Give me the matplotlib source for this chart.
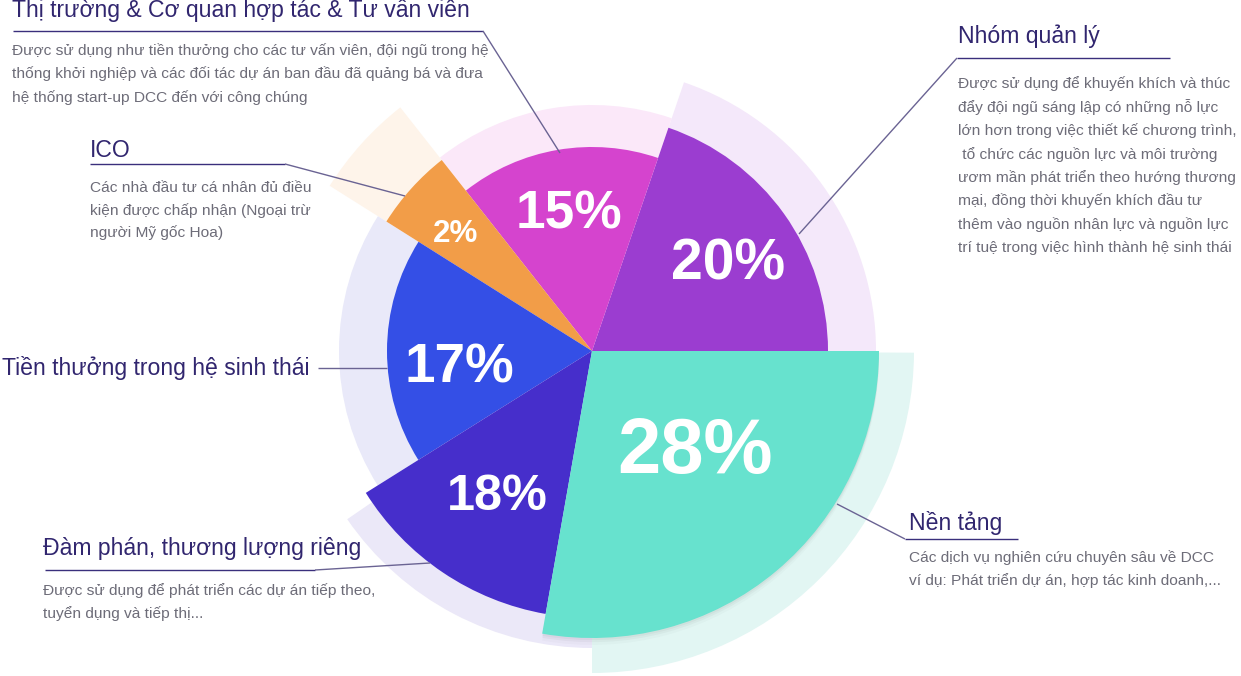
import numpy as np
import matplotlib

matplotlib.use("Agg")
import matplotlib.pyplot as plt
import matplotlib.patheffects as pe

plt.rcParams["font.family"] = ["Liberation Sans", "DejaVu Sans"]

W, H = 1241, 676
CX, CY = 592, 351          # pie centre, pixels from top-left
R = 330                    # polar axes radius in pixels

# ---- data ------------------------------------------------------------------
labels = ["20%", "15%", "2%", "17%", "18%", "28%"]
start_deg = [0.0, 71.1, 128.2, 147.8, 212.1, 260.0]
span_deg = [71.1, 57.1, 19.6, 64.3, 47.9, 100.0]
outer_r = [236, 204, 243, 205, 267, 287]
colors = ["#9b3dd0", "#d544ce", "#f29d48", "#344fe6", "#462ecb", "#67e2ce"]

ghost_start = [0.0, 71.1, 128.2, 147.8, 214.5, 270.0]
ghost_span = [71.1, 57.1, 19.6, 64.3, 55.5, 89.7]
ghost_r = [284, 246, 310, 253, 297, 322]
ghost_colors = ["#f4e8fa", "#fbe8f9", "#fef4ea", "#e9e9f9", "#ebe8f8", "#e2f6f3"]

# percent label placement (pixel x, baseline y, font size)
lab_x = [728.5, 569.2, 455.3, 459.2, 497.4, 694.5]
lab_y = [279.4, 228.7, 242.3, 382.4, 509.9, 473.2]
lab_fs = [41, 38.3, 22.6, 39.4, 36.3, 56]

TITLE_C = "#31266f"
BODY_C = "#6d6c78"
LINE_C = "#3a2f7c"
LEAD_C = "#6a6393"
TITLE_FS = 16.6
BODY_FS = 11.15

fig = plt.figure(figsize=(W / 100, H / 100), dpi=100)

# ---- polar rose ------------------------------------------------------------
pax = fig.add_axes([(CX - R) / W, 1 - (CY + R) / H, 2 * R / W, 2 * R / H],
                   projection="polar")
pax.set_ylim(0, R)
pax.set_axis_off()

pax.bar(np.radians(ghost_start), ghost_r, width=np.radians(ghost_span),
        bottom=0, align="edge", color=ghost_colors, linewidth=0, zorder=1)
bars = pax.bar(np.radians(start_deg), outer_r, width=np.radians(span_deg),
               bottom=0, align="edge", color=colors, linewidth=0, zorder=2)
# soft shadow under the big slice
bars[-1].set_path_effects([
    pe.SimplePatchShadow(offset=(0, -5), shadow_rgbFace="#000000", alpha=0.02),
    pe.SimplePatchShadow(offset=(0, -3), shadow_rgbFace="#000000", alpha=0.03),
    pe.SimplePatchShadow(offset=(0, -1.5), shadow_rgbFace="#000000", alpha=0.03),
    pe.Normal(),
])

# ---- overlay in pixel coordinates -----------------------------------------
ax = fig.add_axes([0, 0, 1, 1])
ax.set_xlim(0, W)
ax.set_ylim(H, 0)
ax.set_axis_off()

for t, x, y, fs in zip(labels, lab_x, lab_y, lab_fs):
    ax.text(x, y, t, ha="center", va="baseline", fontsize=fs,
            fontweight="bold", color="white")


def block(x, title_y, title, lines, body_y, pitch=23.4):
    ax.text(x, title_y, title, ha="left", va="baseline", fontsize=TITLE_FS,
            color=TITLE_C)
    for i, ln in enumerate(lines):
        ax.text(x, body_y + i * pitch, ln, ha="left", va="baseline",
                fontsize=BODY_FS, color=BODY_C)


def seg(p1, p2, c=LEAD_C, lw=1.0):
    ax.plot([p1[0], p2[0]], [p1[1], p2[1]], color=c, lw=lw,
            solid_capstyle="butt")


# Thị trường ...
block(12, 17.5, "Thị trường & Cơ quan hợp tác & Tư vấn viên",
      ["Được sử dụng như tiền thưởng cho các tư vấn viên, đội ngũ trong hệ",
       "thống khởi nghiệp và các đối tác dự án ban đầu đã quảng bá và đưa",
       "hệ thống start-up DCC đến với công chúng"], 55.0, pitch=23.3)
seg((13, 31), (483, 31), c=LINE_C)
seg((483, 31), (560, 153))

# Nhóm quản lý
block(958, 43.3, "Nhóm quản lý",
      ["Được sử dụng để khuyến khích và thúc",
       "đẩy đội ngũ sáng lập có những nỗ lực",
       "lớn hơn trong việc thiết kế chương trình,",
       " tổ chức các nguồn lực và môi trường",
       "ươm mần phát triển theo hướng thương",
       "mại, đồng thời khuyến khích đầu tư",
       "thêm vào nguồn nhân lực và nguồn lực",
       "trí tuệ trong việc hình thành hệ sinh thái"], 88.3)
seg((957, 58), (1170, 58), c=LINE_C)
seg((957, 58), (799, 234))

# ICO
block(90, 156.7, "ICO",
      ["Các nhà đầu tư cá nhân đủ điều",
       "kiện được chấp nhận (Ngoại trừ",
       "người Mỹ gốc Hoa)"], 191.7, pitch=22.9)
seg((90, 164), (285, 164), c=LINE_C)
seg((285, 164), (405, 196))

# Tiền thưởng trong hệ sinh thái
ax.text(2, 375, "Tiền thưởng trong hệ sinh thái", ha="left", va="baseline",
        fontsize=TITLE_FS, color=TITLE_C)
seg((318, 368), (387, 368))

# Đàm phán
block(43, 555, "Đàm phán, thương lượng riêng",
      ["Được sử dụng để phát triển các dự án tiếp theo,",
       "tuyển dụng và tiếp thị..."], 595, pitch=23.2)
seg((45, 570), (315, 570), c=LINE_C)
seg((315, 570), (430, 563))

# Nền tảng
block(909, 530, "Nền tảng",
      ["Các dịch vụ nghiên cứu chuyên sâu về DCC",
       "ví dụ: Phát triển dự án, hợp tác kinh doanh,..."], 561.7, pitch=23.3)
seg((905, 539), (1018, 539), c=LINE_C)
seg((905, 539), (837, 504))

fig.savefig("out.png", dpi=100, facecolor="white")
